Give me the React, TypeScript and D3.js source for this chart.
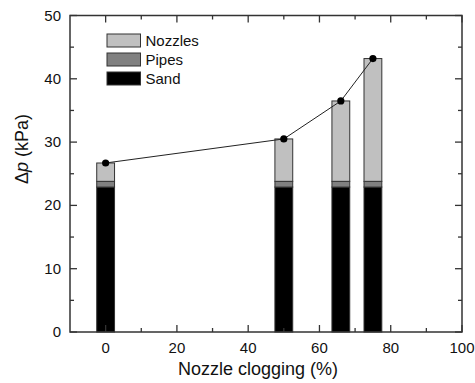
import React, { useEffect, useRef } from 'react';
import * as d3 from 'd3';

const clogging = [0, 50, 66, 75];
const sand = [22.9, 22.9, 22.9, 22.9];
const pipes = [0.9, 0.9, 0.9, 0.9];
const nozzles = [2.9, 6.7, 12.7, 19.4];
const totals = [26.7, 30.5, 36.5, 43.2];

const legendItems = ['Nozzles', 'Pipes', 'Sand'];
const colors = { Nozzles: '#c0c0c0', Pipes: '#808080', Sand: '#000000' };

const App = () => {
  const svgRef = useRef<SVGSVGElement>(null);

  useEffect(() => {
    const W = 475;
    const H = 383;
    const m = { top: 15.5, right: 13, bottom: 51, left: 70 };
    const width = W - m.left - m.right;
    const height = H - m.top - m.bottom;
    const font = 'Arial, "Liberation Sans", sans-serif';

    const root = d3.select(svgRef.current).attr('width', W).attr('height', H).html('');
    const svg = root.append('g').attr('transform', `translate(${m.left},${m.top})`);

    const x = d3.scaleLinear().domain([-10, 100]).range([0, width]);
    const y = d3.scaleLinear().domain([0, 50]).range([height, 0]);

    const rows = clogging.map((c, i) => ({
      c,
      Sand: sand[i],
      Pipes: pipes[i],
      Nozzles: nozzles[i],
    }));
    const stack = d3.stack<any>().keys(['Sand', 'Pipes', 'Nozzles'])(rows);
    const halfW = 2.5;

    stack.forEach(layer => {
      svg.append('g')
        .selectAll('rect')
        .data(layer)
        .join('rect')
        .attr('x', d => x(d.data.c - halfW))
        .attr('width', d => x(d.data.c + halfW) - x(d.data.c - halfW))
        .attr('y', d => y(d[1]))
        .attr('height', d => y(d[0]) - y(d[1]))
        .attr('fill', colors[layer.key as keyof typeof colors])
        .attr('stroke', '#333')
        .attr('stroke-width', 1);
    });

    // line + points
    const pts = clogging.map((c, i) => ({ c, v: totals[i] }));
    svg.append('path')
      .datum(pts)
      .attr('fill', 'none')
      .attr('stroke', '#222')
      .attr('stroke-width', 1)
      .attr('d', d3.line<any>().x(d => x(d.c)).y(d => y(d.v)));
    svg.append('g')
      .selectAll('circle')
      .data(pts)
      .join('circle')
      .attr('cx', d => x(d.c))
      .attr('cy', d => y(d.v))
      .attr('r', 3.6)
      .attr('fill', '#000');

    // axes with inward ticks
    const xMajor = d3.range(0, 101, 20);
    const xMinor = d3.range(-10, 101, 20).filter(v => v > -10 && v < 100);
    const yMajor = d3.range(0, 51, 10);
    const yMinor = d3.range(5, 50, 10);
    const axisColor = '#333';

    const ticks = svg.append('g').attr('stroke', axisColor).attr('stroke-width', 1.3);
    xMajor.forEach(v => {
      ticks.append('line').attr('x1', x(v)).attr('x2', x(v)).attr('y1', height).attr('y2', height - 7);
      ticks.append('line').attr('x1', x(v)).attr('x2', x(v)).attr('y1', 0).attr('y2', 7);
    });
    xMinor.forEach(v => {
      ticks.append('line').attr('x1', x(v)).attr('x2', x(v)).attr('y1', height).attr('y2', height - 4);
      ticks.append('line').attr('x1', x(v)).attr('x2', x(v)).attr('y1', 0).attr('y2', 4);
    });
    yMajor.forEach(v => {
      ticks.append('line').attr('x1', 0).attr('x2', 7).attr('y1', y(v)).attr('y2', y(v));
      ticks.append('line').attr('x1', width).attr('x2', width - 7).attr('y1', y(v)).attr('y2', y(v));
    });
    yMinor.forEach(v => {
      ticks.append('line').attr('x1', 0).attr('x2', 4).attr('y1', y(v)).attr('y2', y(v));
      ticks.append('line').attr('x1', width).attr('x2', width - 4).attr('y1', y(v)).attr('y2', y(v));
    });

    svg.append('rect')
      .attr('width', width)
      .attr('height', height)
      .attr('fill', 'none')
      .attr('stroke', axisColor)
      .attr('stroke-width', 1.5);

    svg.append('g')
      .selectAll('text')
      .data(xMajor)
      .join('text')
      .attr('x', d => x(d))
      .attr('y', height + 21)
      .attr('text-anchor', 'middle')
      .style('font', `15px ${font}`)
      .attr('fill', '#111')
      .text(d => d);

    svg.append('g')
      .selectAll('text')
      .data(yMajor)
      .join('text')
      .attr('x', -9)
      .attr('y', d => y(d) + 5)
      .attr('text-anchor', 'end')
      .style('font', `15px ${font}`)
      .attr('fill', '#111')
      .text(d => d);

    // titles
    root.append('text')
      .attr('x', 258)
      .attr('y', 375)
      .attr('text-anchor', 'middle')
      .style('font', `18px ${font}`)
      .attr('fill', '#111')
      .text('Nozzle clogging (%)');

    const yt = root.append('text')
      .attr('transform', 'translate(28,149) rotate(-90)')
      .attr('text-anchor', 'middle')
      .style('font', `18px ${font}`)
      .attr('fill', '#111');
    yt.append('tspan').text('\u0394');
    yt.append('tspan').style('font-style', 'italic').text('p');
    yt.append('tspan').text(' (kPa)');

    // legend
    const leg = root.append('g').attr('transform', 'translate(107,34)');
    legendItems.forEach((k, i) => {
      const g = leg.append('g').attr('transform', `translate(0,${i * 19})`);
      g.append('rect')
        .attr('width', 33.5)
        .attr('height', 13)
        .attr('fill', colors[k as keyof typeof colors])
        .attr('stroke', '#333')
        .attr('stroke-width', 1);
      g.append('text')
        .attr('x', 38.5)
        .attr('y', 12)
        .style('font', `15px ${font}`)
        .attr('fill', '#111')
        .text(k);
    });
  }, []);

  return <svg ref={svgRef} style={{ position: 'absolute', left: 0, top: 0 }}></svg>;
};

export default App;
